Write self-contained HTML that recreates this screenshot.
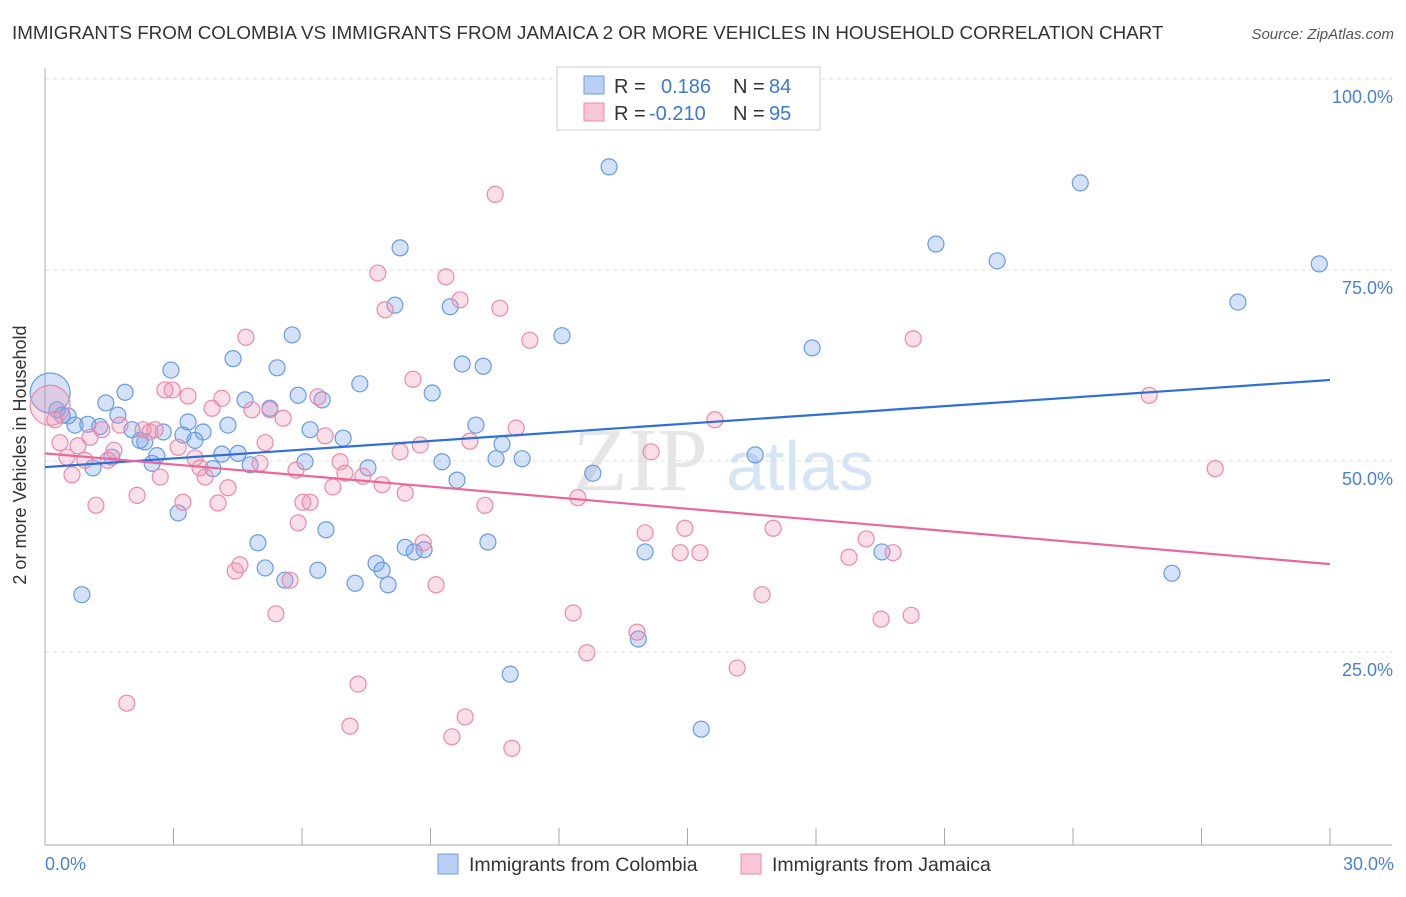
<!DOCTYPE html>
<html><head><meta charset="utf-8"><style>
body{margin:0;background:#fff;font-family:"Liberation Sans",sans-serif;}
</style></head><body>
<svg width="1406" height="892" xmlns="http://www.w3.org/2000/svg">
<text x="12" y="39" font-size="18.8" fill="#333">IMMIGRANTS FROM COLOMBIA VS IMMIGRANTS FROM JAMAICA 2 OR MORE VEHICLES IN HOUSEHOLD CORRELATION CHART</text>
<text x="1394" y="39" font-size="15" fill="#555" text-anchor="end" font-style="italic">Source: ZipAtlas.com</text>
<text x="640" y="490" font-size="90" fill="#e6e6e6" font-family="Liberation Serif,serif" text-anchor="middle">ZIP</text>
<text x="800" y="490" font-size="70" fill="#d6e4f5" text-anchor="middle">atlas</text>
<g id="grid"></g>
<g id="axes"></g>
<g id="pts"></g>
<g id="lines"></g>
<text x="26" y="455" font-size="18" fill="#333" text-anchor="middle" transform="rotate(-90 26 455)">2 or more Vehicles in Household</text>
<text x="45" y="870" font-size="18" fill="#4a7fd6">0.0%</text>
<text x="1394" y="870" font-size="18" fill="#4a7fd6" text-anchor="end">30.0%</text>
<g>
<rect x="557" y="67" width="263" height="63" fill="#fff" stroke="#ccc"/>
<rect x="584" y="76" width="20" height="18" fill="#b8d0f3" stroke="#6a9be0"/>
<rect x="584" y="103" width="20" height="18" fill="#f9c6d5" stroke="#e98aaa"/>
<text x="614" y="93" font-size="20" fill="#333">R =</text><text x="661" y="93" font-size="20" fill="#3b78d8">0.186</text>
<text x="733" y="93" font-size="20" fill="#333">N =</text><text x="769" y="93" font-size="20" fill="#3b78d8">84</text>
<text x="614" y="120" font-size="20" fill="#333">R =</text><text x="649" y="120" font-size="20" fill="#3b78d8">-0.210</text>
<text x="733" y="120" font-size="20" fill="#333">N =</text><text x="769" y="120" font-size="20" fill="#3b78d8">95</text>
</g>
<g>
<rect x="438" y="854" width="20" height="20" fill="#b8d0f3" stroke="#6a9be0"/>
<text x="469" y="871" font-size="19.5" fill="#333">Immigrants from Colombia</text>
<rect x="741" y="854" width="20" height="20" fill="#f9c6d5" stroke="#e98aaa"/>
<text x="772" y="871" font-size="19.5" fill="#333">Immigrants from Jamaica</text>
</g>
</svg>
<script>
const yTicks=[25,50,75,100];
const yTickLabels=["25.0%","50.0%","75.0%","100.0%"];
const xTicks=[3,6,9,12,15,18,21,24,27,30];
const blueX=[0.12,0.28,0.40,0.54,0.70,0.86,1.00,1.12,1.28,1.42,1.56,1.70,1.87,2.03,2.22,2.33,2.50,2.61,2.76,2.94,3.11,3.22,3.34,3.50,3.69,3.92,4.13,4.27,4.39,4.51,4.67,4.79,4.97,5.14,5.25,5.42,5.60,5.77,5.91,6.07,6.19,6.37,6.47,6.56,6.96,7.24,7.35,7.54,7.73,7.87,8.01,8.17,8.29,8.41,8.62,8.85,9.04,9.27,9.46,9.62,9.74,10.06,10.23,10.34,10.53,10.67,10.86,11.14,12.07,12.79,13.17,14.01,13.85,15.32,16.58,17.91,19.54,20.80,22.23,24.17,26.31,27.85,29.75];
const blueY=[58.9,56.7,56.0,55.9,54.7,32.5,54.8,49.1,54.5,57.6,50.5,56.0,59.0,54.1,52.7,52.5,49.7,50.7,53.8,61.9,43.2,53.4,55.1,52.7,53.8,49.0,50.9,54.7,63.4,51.0,58.0,49.5,39.3,36.0,56.9,62.2,34.4,66.5,58.6,49.9,54.1,35.7,58.0,41.0,53.0,34.0,60.1,49.1,36.6,35.7,33.8,70.4,77.9,38.7,38.1,38.4,58.9,49.9,70.2,47.5,62.7,54.7,62.4,39.4,50.3,52.2,22.1,50.3,66.4,48.4,88.5,38.1,26.7,14.9,50.8,64.8,38.1,78.4,76.2,86.4,35.3,70.8,75.8];
const pinkX=[0.12,0.23,0.35,0.51,0.63,0.77,0.93,1.05,1.19,1.33,1.47,1.61,1.75,1.91,2.15,2.29,2.45,2.57,2.69,2.80,2.97,3.11,3.22,3.34,3.50,3.62,3.74,3.90,4.04,4.13,4.27,4.44,4.55,4.69,4.83,5.02,5.14,5.25,5.39,5.56,5.72,5.86,5.91,6.02,6.19,6.37,6.54,6.72,6.89,7.00,7.12,7.31,7.42,7.77,7.87,7.94,8.29,8.41,8.59,8.76,8.83,9.13,9.36,9.50,9.69,9.81,9.92,10.27,10.51,10.62,10.90,11.00,11.32,12.33,12.44,12.65,13.82,14.01,14.15,14.83,14.94,15.29,15.64,16.16,16.74,17.00,18.77,19.17,19.52,19.80,20.22,20.27,25.78,27.32];
const pinkY=[57.3,55.4,52.4,50.5,48.2,52.0,50.1,53.1,44.2,54.1,50.1,51.4,54.7,18.3,45.5,54.1,53.8,54.1,47.9,59.3,59.3,51.8,44.6,58.5,50.4,49.1,47.9,56.9,44.5,58.2,46.5,35.6,36.4,66.2,56.7,49.7,52.4,56.7,30.0,55.6,34.4,48.8,41.9,44.6,44.6,58.4,53.3,46.6,49.9,48.4,15.3,20.8,48.0,74.6,46.9,69.8,51.2,45.8,60.7,52.1,39.3,33.8,74.1,13.9,71.1,16.5,52.6,44.2,84.9,70.0,12.4,54.3,65.8,30.1,45.2,24.9,27.6,40.6,51.2,38.0,41.2,38.0,55.4,22.9,32.5,41.2,37.4,39.8,29.3,38.0,29.8,66.0,58.6,49.0];
const blueTrend=[49.2,60.6];
const pinkTrend=[51.0,36.5];
const NS="http://www.w3.org/2000/svg";
const X=v=>45+v/30*1285, Y=v=>843-v*7.64;
function mk(t,a,p){const e=document.createElementNS(NS,t);for(const k in a)e.setAttribute(k,a[k]);document.getElementById(p).appendChild(e);return e;}
yTicks.forEach((t,i)=>{
 const l=mk('line',{x1:45,x2:1392,y1:Y(t),y2:Y(t),stroke:'#ddd','stroke-dasharray':'4,4'},'grid');
 
 
 const tx=mk('text',{x:1393,y:Y(t)+24,'font-size':18,fill:'#4a7fd6','text-anchor':'end'},'grid');
 tx.textContent=yTickLabels[i];
 
 
});
const ax=mk('line',{x1:45,x2:1392,y1:845,y2:845,stroke:'#aaa'},'axes');


const ay=mk('line',{x1:45,x2:45,y1:68,y2:845,stroke:'#aaa'},'axes');


xTicks.forEach(t=>{
 const l=mk('line',{x1:X(t),x2:X(t),y1:828,y2:845,stroke:'#aaa'},'axes');
 
 
});
function pts(xs,ys,fill,stroke,name){
 xs.forEach((x,i)=>{
  const c=mk('circle',{cx:X(x),cy:Y(ys[i]),r:i===0?20:8,fill:fill,stroke:stroke,'stroke-width':1.2},'pts');
  
  
 });
}
pts(blueX,blueY,'rgba(110,160,235,0.3)','#6a9be0','colombia-point');
pts(pinkX,pinkY,'rgba(240,150,180,0.3)','#e98aaa','jamaica-point');
const bl=mk('line',{x1:X(0),x2:X(30),y1:Y(blueTrend[0]),y2:Y(blueTrend[1]),stroke:'#2f6fd6','stroke-width':2.2},'lines');


const pl=mk('line',{x1:X(0),x2:X(30),y1:Y(pinkTrend[0]),y2:Y(pinkTrend[1]),stroke:'#e8689a','stroke-width':2.2},'lines');


</script>
</body></html>
